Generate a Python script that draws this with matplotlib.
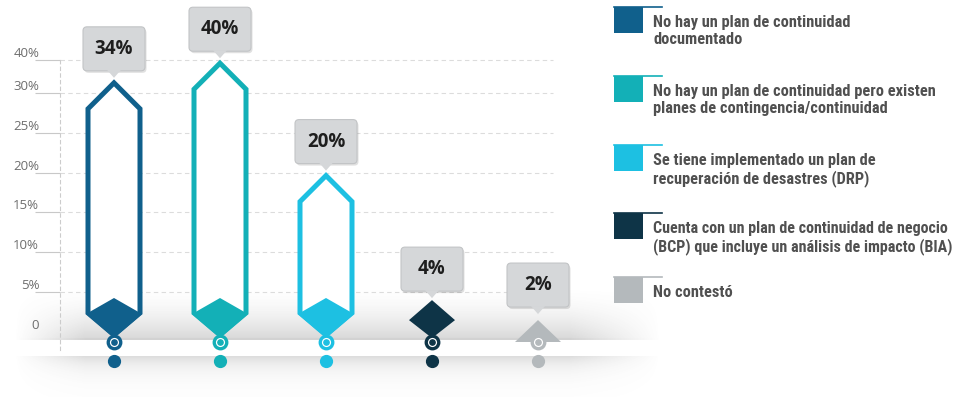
import numpy as np
import matplotlib
matplotlib.use('Agg')
import matplotlib.pyplot as plt
from matplotlib.patches import Polygon, FancyBboxPatch, Rectangle
from matplotlib.lines import Line2D
from matplotlib.transforms import IdentityTransform

categories = ['No hay un plan de continuidad\ndocumentado',
              'No hay un plan de continuidad pero existen\nplanes de contingencia/continuidad',
              'Se tiene implementado un plan de\nrecuperación de desastres (DRP)',
              'Cuenta con un plan de continuidad de negocio\n(BCP) que incluye un análisis de impacto (BIA)',
              'No contestó']
values = [34, 40, 20, 4, 2]
value_labels = ['34%', '40%', '20%', '4%', '2%']
colors = ['#10608c', '#13b0b7', '#1dc0e2', '#0e3447', '#b4b9bc']
yticks = [0, 5, 10, 15, 20, 25, 30, 40]
ytick_labels = ['0', '5%', '10%', '15%', '20%', '25%', '30%', '40%']

W, H = 959, 397
PX = 7.97  # pixels per percent below 30
fig = plt.figure(figsize=(W / 100, H / 100), dpi=100)

# grey "floor" shading behind everything, in pixel coords
bg = fig.add_axes([0, 0, 1, 1], zorder=-1)
bg.set_xlim(0, W)
bg.set_ylim(H, 0)
bg.axis('off')
rows = np.arange(H) + 0.5
cols = np.arange(W) + 0.5
d = np.zeros(H)
m = (rows >= 285) & (rows < 338)
d[m] = 0.26 * ((rows[m] - 285) / 53) ** 1.8
d[(rows >= 338) & (rows < 340.5)] = 0.30
m = rows >= 356
d[m] = 0.24 * np.exp(-(rows[m] - 356) / 12)
c = np.clip((cols - 15) / 70, 0, 1) * np.clip((660 - cols) / 90, 0, 1)
img = np.zeros((H, W, 4))
img[..., :3] = 0.42
img[..., 3] = np.outer(d, c)
bg.imshow(img, extent=(0, W, H, 0), interpolation='bilinear', aspect='auto')


# the axis labels are squeezed above 30%
def fwd(y):
    y = np.asarray(y, float)
    return np.where(y <= 30, y, 30 + (y - 30) * 0.41)


def inv(s):
    s = np.asarray(s, float)
    return np.where(s <= 30, s, 30 + (s - 30) / 0.41)


ax = fig.add_axes([60 / W, 0, 1 - 60 / W, 1])
ax.patch.set_alpha(0)
ax.set_yscale('function', functions=(fwd, inv))
x0 = (60 - 114) / 106
ax.set_xlim(x0, (W - 114) / 106)
ax.set_ylim(-65 / PX, float(inv(332 / PX)))
ax.set_xticks([])
ax.set_yticks(yticks, ytick_labels)
ax.minorticks_off()
ax.tick_params(axis='y', length=18, width=0.8, color='#c8c8c8', pad=-3,
               labelsize=9.5, labelcolor='#6e6e6e')
for t in ax.get_yticklabels():
    t.set_va('bottom')
    t.set_family('Open Sans')
ax.yaxis.get_major_ticks()[0].tick1line.set_visible(False)
for s in ['top', 'right', 'bottom']:
    ax.spines[s].set_visible(False)
ax.spines['left'].set_linestyle((0, (3, 3)))
ax.spines['left'].set_color('#cccccc')
ax.spines['left'].set_linewidth(0.8)
ax.spines['left'].set_bounds(-2.3, 40)
ax.hlines(yticks[1:], x0, (553 - 114) / 106, colors='#dcdcdc',
          linestyles=(0, (4, 3)), lw=0.8, zorder=0.5)

I = IdentityTransform()
for i, (v, col, lab) in enumerate(zip(values, colors, value_labels)):
    X, Yt = ax.transData.transform((i, v))
    _, Y0 = ax.transData.transform((i, 0))
    if v >= 10:
        hw = 26
        peak = Yt - 3
        outline = [(X - hw, Y0 + 19), (X - hw, peak - hw), (X, peak),
                   (X + hw, peak - hw), (X + hw, Y0 + 19), (X, Y0 - 3)]
        ax.add_patch(Polygon(outline, closed=True, transform=I, fc='white', ec=col,
                             lw=3.6, joinstyle='miter', zorder=3))
        ax.add_patch(Polygon([(X, Y0 + 34), (X + 28, Y0 + 18), (X, Y0 - 6), (X - 28, Y0 + 18)],
                             transform=I, fc=col, ec='none', zorder=4))
    elif v >= 3:
        ax.add_patch(Polygon([(X, Yt), (X + 23, Yt - 20), (X, Yt - 38), (X - 23, Yt - 20)],
                             transform=I, fc=col, ec='none', zorder=4))
    else:
        ax.add_patch(Polygon([(X, Yt - 4), (X + 23, Y0 - 10), (X - 23, Y0 - 10)],
                             transform=I, fc=col, ec='none', zorder=4))

    # ring + dot under each item
    ax.plot([X], [Y0 - 10], 'o', ms=9, mfc='white', mec=col, mew=2.4, transform=I, zorder=6)
    ax.plot([X], [Y0 - 10], 'o', ms=3.8, color=col, transform=I, zorder=7)
    ax.plot([X], [Y0 - 29], 'o', ms=8.5, color=col, transform=I, zorder=6)

    # callout bubble
    bw, bh = 62, 44
    bot = Yt + 9
    ax.add_patch(FancyBboxPatch((X - bw / 2 + 1.5, bot - 2), bw, bh,
                                boxstyle='round,pad=0,rounding_size=4', transform=I,
                                fc='black', alpha=0.12, ec='none', zorder=7))
    ax.add_patch(FancyBboxPatch((X - bw / 2, bot), bw, bh,
                                boxstyle='round,pad=0,rounding_size=4', transform=I,
                                fc='#d5d7d9', ec='#c2c4c6', lw=0.8, zorder=8))
    ax.add_patch(Polygon([(X - 7, bot + 1), (X + 7, bot + 1), (X, Yt + 2)],
                         transform=I, fc='#d5d7d9', ec='none', zorder=9))
    ax.text(X, bot + bh / 2, lab, transform=I, ha='center', va='center', fontsize=13.5,
            fontweight='bold', family='Open Sans', color='#1e1e1e', zorder=10)

# legend on the right
leg_tops = [7, 76, 145, 213, 277]
renderer = fig.canvas.get_renderer()
for top, col, cat in zip(leg_tops, colors, categories):
    fig.add_artist(Rectangle((614 / W, 1 - (top + 26) / H), 29 / W, 26 / H,
                             transform=fig.transFigure, fc=col, ec='none'))
    fig.add_artist(Line2D([614 / W, 662 / W], [1 - top / H] * 2, color=col, lw=1.2))
    t = fig.text(653 / W, 1 - (top + 8) / H, cat, ha='left', va='top', fontsize=11.8,
                 fontweight='bold', fontstretch='condensed',
                 family=['Roboto Condensed', 'Liberation Sans Narrow', 'Roboto', 'DejaVu Sans'],
                 color='#505050', linespacing=1.15)
    # shrink if the line would run off the right edge
    while t.get_window_extent(renderer).x1 > W - 2:
        t.set_fontsize(t.get_fontsize() - 0.25)

fig.savefig('out.png', dpi=100)
